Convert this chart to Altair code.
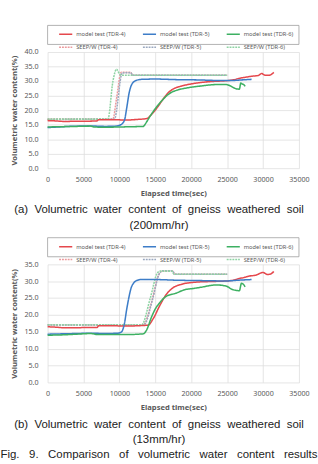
import altair as alt
import pandas as pd

# ---- shared axis / series definitions ----
TIME_TICKS = [0, 5000, 10000, 15000, 20000, 25000, 30000, 35000]
SERIES = ["model test (TDR-4)", "model test (TDR-5)", "model test (TDR-6)",
          "SEEP/W (TDR-4)", "SEEP/W (TDR-5)", "SEEP/W (TDR-6)"]
COLORS = ["#e5484d", "#3d7dc8", "#3db062", "#eb9a9d", "#9aa8bf", "#8fd3a4"]
DASHES = [[1, 0], [1, 0], [1, 0], [2, 1], [2, 1], [2, 1]]
WIDTHS = [1.6, 1.6, 1.6, 1.1, 1.1, 1.1]

# ---- (a) 200 mm/hr ----
a_m4_t = [0, 1000, 2500, 4000, 5500, 6900, 7100, 9000, 11000, 12500, 13800, 14500,
          15300, 16000, 16800, 17500, 18500, 19500, 21000, 22500, 24000, 25200,
          26000, 26600, 27500, 28500, 29300, 29800, 30300, 30800, 31500]
a_m4_v = [16.4, 16.3, 16.1, 16.2, 16.2, 16.3, 16.7, 16.7, 16.6, 16.8, 17.1, 18.6,
          21.0, 23.5, 26.0, 27.3, 28.2, 28.8, 29.4, 29.8, 30.0, 30.2,
          30.5, 30.9, 31.3, 31.7, 31.9, 32.6, 32.0, 32.0, 33.0]
a_m5_t = [0, 1500, 3000, 5000, 6500, 8000, 9500, 10200, 10700, 11000, 11350, 11800,
          12400, 13100, 15000, 18000, 21000, 24000, 25500, 27000, 28400]
a_m5_v = [14.0, 14.2, 14.4, 14.5, 14.5, 14.4, 14.5, 15.0, 16.5, 20.5, 25.9, 29.2,
          30.3, 30.6, 30.7, 30.5, 30.4, 30.2, 30.2, 30.4, 30.6]
a_m6_t = [0, 2000, 4000, 6000, 6500, 8000, 10000, 12000, 13300, 13800, 14300, 14700,
          15300, 16000, 16700, 17300, 18200, 19500, 21300, 23500, 24800, 25500,
          26000, 26700, 26900, 27100, 27300, 27500]
a_m6_v = [14.2, 14.3, 14.4, 14.5, 14.2, 14.1, 14.2, 14.3, 14.4, 16.0, 18.0, 19.5,
          21.5, 23.5, 25.2, 26.2, 27.0, 27.7, 28.3, 28.8, 28.8, 28.3,
          27.6, 27.2, 29.3, 29.0, 28.8, 28.2]
a_s4_t = [0, 5000, 9100, 9600, 10250, 11600, 11800, 25000]
a_s4_v = [16.9, 16.9, 17.0, 24.0, 33.0, 33.0, 32.0, 32.0]
a_s5_t = [0, 9300, 10400, 11600, 11800, 25000]
a_s5_v = [16.8, 16.9, 32.8, 32.9, 32.0, 32.0]
a_s6_t = [0, 8400, 9100, 9600, 10000, 10300, 25000]
a_s6_v = [16.9, 16.9, 30.0, 34.1, 32.5, 32.0, 32.0]

# ---- (b) 13 mm/hr ----
b_m4_t = [0, 1000, 2500, 4000, 5500, 6900, 7100, 9000, 11000, 12500, 14000, 14700,
          15600, 16500, 17350, 18670, 20450, 22500, 24000, 25200, 26000, 26700,
          27500, 28000, 29000, 30000, 30600, 31000, 31500]
b_m4_v = [16.5, 16.4, 16.2, 16.2, 16.3, 16.3, 16.8, 16.8, 16.7, 16.8, 17.0, 18.9,
          22.7, 26.0, 27.9, 29.1, 29.7, 29.9, 30.0, 30.1, 30.4, 30.8,
          31.2, 31.5, 31.8, 32.6, 32.0, 32.1, 32.9]
b_m5_t = [0, 2000, 4000, 6000, 8000, 9800, 10300, 10700, 11000, 11300, 11600, 12000,
          12400, 13000, 15000, 18000, 21000, 24000, 25000, 26500, 28400]
b_m5_v = [14.3, 14.4, 14.5, 14.6, 14.5, 14.6, 15.0, 17.5, 21.5, 25.0, 27.8, 29.5,
          30.2, 30.5, 30.5, 30.3, 30.2, 30.1, 30.1, 30.3, 30.5]
b_m6_t = [0, 2000, 4000, 6000, 7000, 9000, 11000, 13300, 13800, 14470, 15000, 15600,
          16500, 17800, 19100, 20450, 21300, 23500, 24800, 25800, 26700, 27000,
          27300, 27500]
b_m6_v = [14.0, 14.1, 14.3, 14.5, 14.2, 14.2, 14.2, 14.4, 15.6, 19.4, 21.8, 23.6,
          25.5, 26.4, 27.5, 27.9, 28.2, 28.9, 28.6, 27.5, 27.2, 29.4,
          29.0, 28.3]
b_s4_t = [0, 13300, 14500, 15400, 15900, 17400, 17700, 25000]
b_s4_v = [17.0, 17.0, 24.0, 31.5, 33.0, 33.0, 32.1, 32.1]
b_s5_t = [0, 13400, 14600, 15500, 16000, 17400, 17700, 25000]
b_s5_v = [17.0, 17.0, 24.5, 32.0, 33.1, 33.1, 32.1, 32.1]
b_s6_t = [0, 13100, 14300, 15300, 15700, 17300, 17600, 25000]
b_s6_v = [17.1, 17.1, 25.0, 32.5, 33.0, 33.0, 32.1, 32.1]

NBSP = "\u00a0"


def spaced(text, n=2):
    """Widen word gaps with non-breaking spaces (plain spaces collapse in SVG)."""
    return (" " + NBSP * (n - 1)).join(text.split(" "))


def long_table(pairs):
    rows = []
    for name, ts, vs in pairs:
        for t, v in zip(ts, vs):
            rows.append({"series": name, "t": t, "v": v})
    return pd.DataFrame(rows)


def panel(df, ymax, height, caption_lines):
    legend = alt.Legend(orient="none", legendX=11, legendY=-27, columns=3,
                        direction="horizontal",
                        title=None, symbolType="stroke", symbolSize=190,
                        labelFontSize=6, labelColor="#595959", labelFont="Noto Sans",
                        columnPadding=14, rowPadding=2, padding=0, labelOffset=3)
    lines = alt.Chart(df).mark_line(interpolate="monotone").encode(
        x=alt.X("t:Q", scale=alt.Scale(domain=[0, 35000], nice=False),
                axis=alt.Axis(values=TIME_TICKS, format="d", title="Elapsed time(sec)",
                              labelOverlap=False, labelFlush=False)),
        y=alt.Y("v:Q", scale=alt.Scale(domain=[0, ymax], nice=False),
                axis=alt.Axis(values=list(range(0, ymax + 1, 5)), format=".1f",
                              title="Volumetric water content(%)",
                              labelOverlap=False, labelFlush=False)),
        color=alt.Color("series:N", scale=alt.Scale(domain=SERIES, range=COLORS), legend=legend),
        strokeDash=alt.StrokeDash("series:N", scale=alt.Scale(domain=SERIES, range=DASHES), legend=legend),
        strokeWidth=alt.StrokeWidth("series:N", scale=alt.Scale(domain=SERIES, range=WIDTHS), legend=legend),
        order=alt.Order("t:Q"),
    )
    # frame around the legend, spanning the full plot width
    box = alt.Chart(pd.DataFrame({"k": [0]})).mark_rect(
        filled=False, stroke="#9a9a9a", strokeWidth=0.8).encode(
        x=alt.value(0), x2=alt.value("width"), y=alt.value(-28), y2=alt.value(-8))
    return alt.layer(lines, box).properties(
        width=264, height=height,
        title=alt.Title(caption_lines, orient="bottom", anchor="middle", dx=-15,
                        fontSize=12, font="Liberation Sans", fontWeight="normal",
                        color="#222222", lineHeight=16, offset=8),
    )


df_a = long_table([
    (SERIES[3], a_s4_t, a_s4_v), (SERIES[4], a_s5_t, a_s5_v), (SERIES[5], a_s6_t, a_s6_v),
    (SERIES[0], a_m4_t, a_m4_v), (SERIES[1], a_m5_t, a_m5_v), (SERIES[2], a_m6_t, a_m6_v),
])
df_b = long_table([
    (SERIES[3], b_s4_t, b_s4_v), (SERIES[4], b_s5_t, b_s5_v), (SERIES[5], b_s6_t, b_s6_v),
    (SERIES[0], b_m4_t, b_m4_v), (SERIES[1], b_m5_t, b_m5_v), (SERIES[2], b_m6_t, b_m6_v),
])

top = panel(df_a, 40, 122, [spaced("(a) Volumetric water content of gneiss weathered soil"),
                            "(200mm/hr)"])
bottom = panel(df_b, 35, 124, [spaced("(b) Volumetric water content of gneiss weathered soil"),
                               "(13mm/hr)",
                               spaced("Fig. 9. Comparison of volumetric water content results", 3)])

chart = alt.vconcat(top, bottom, spacing=6).resolve_scale(
    color="independent", strokeDash="independent", strokeWidth="independent",
).resolve_legend(
    color="independent", strokeDash="independent", strokeWidth="independent",
).properties(
    padding={"left": 0, "top": 14, "right": 0, "bottom": -8},
).configure_view(stroke=None).configure_axis(
    grid=True, gridColor="#dcdcdc", gridWidth=0.8, domain=False, ticks=False,
    labelFont="Noto Sans", labelColor="#595959", labelFontSize=7.5,
    titleFont="Noto Sans", titleColor="#595959", titleFontSize=8, titleFontWeight="bold",
).configure_axisY(labelPadding=10, titlePadding=6).configure_axisX(labelPadding=8, titlePadding=7)

chart.save("out.html", embed_options={"renderer": "svg", "actions": False})
